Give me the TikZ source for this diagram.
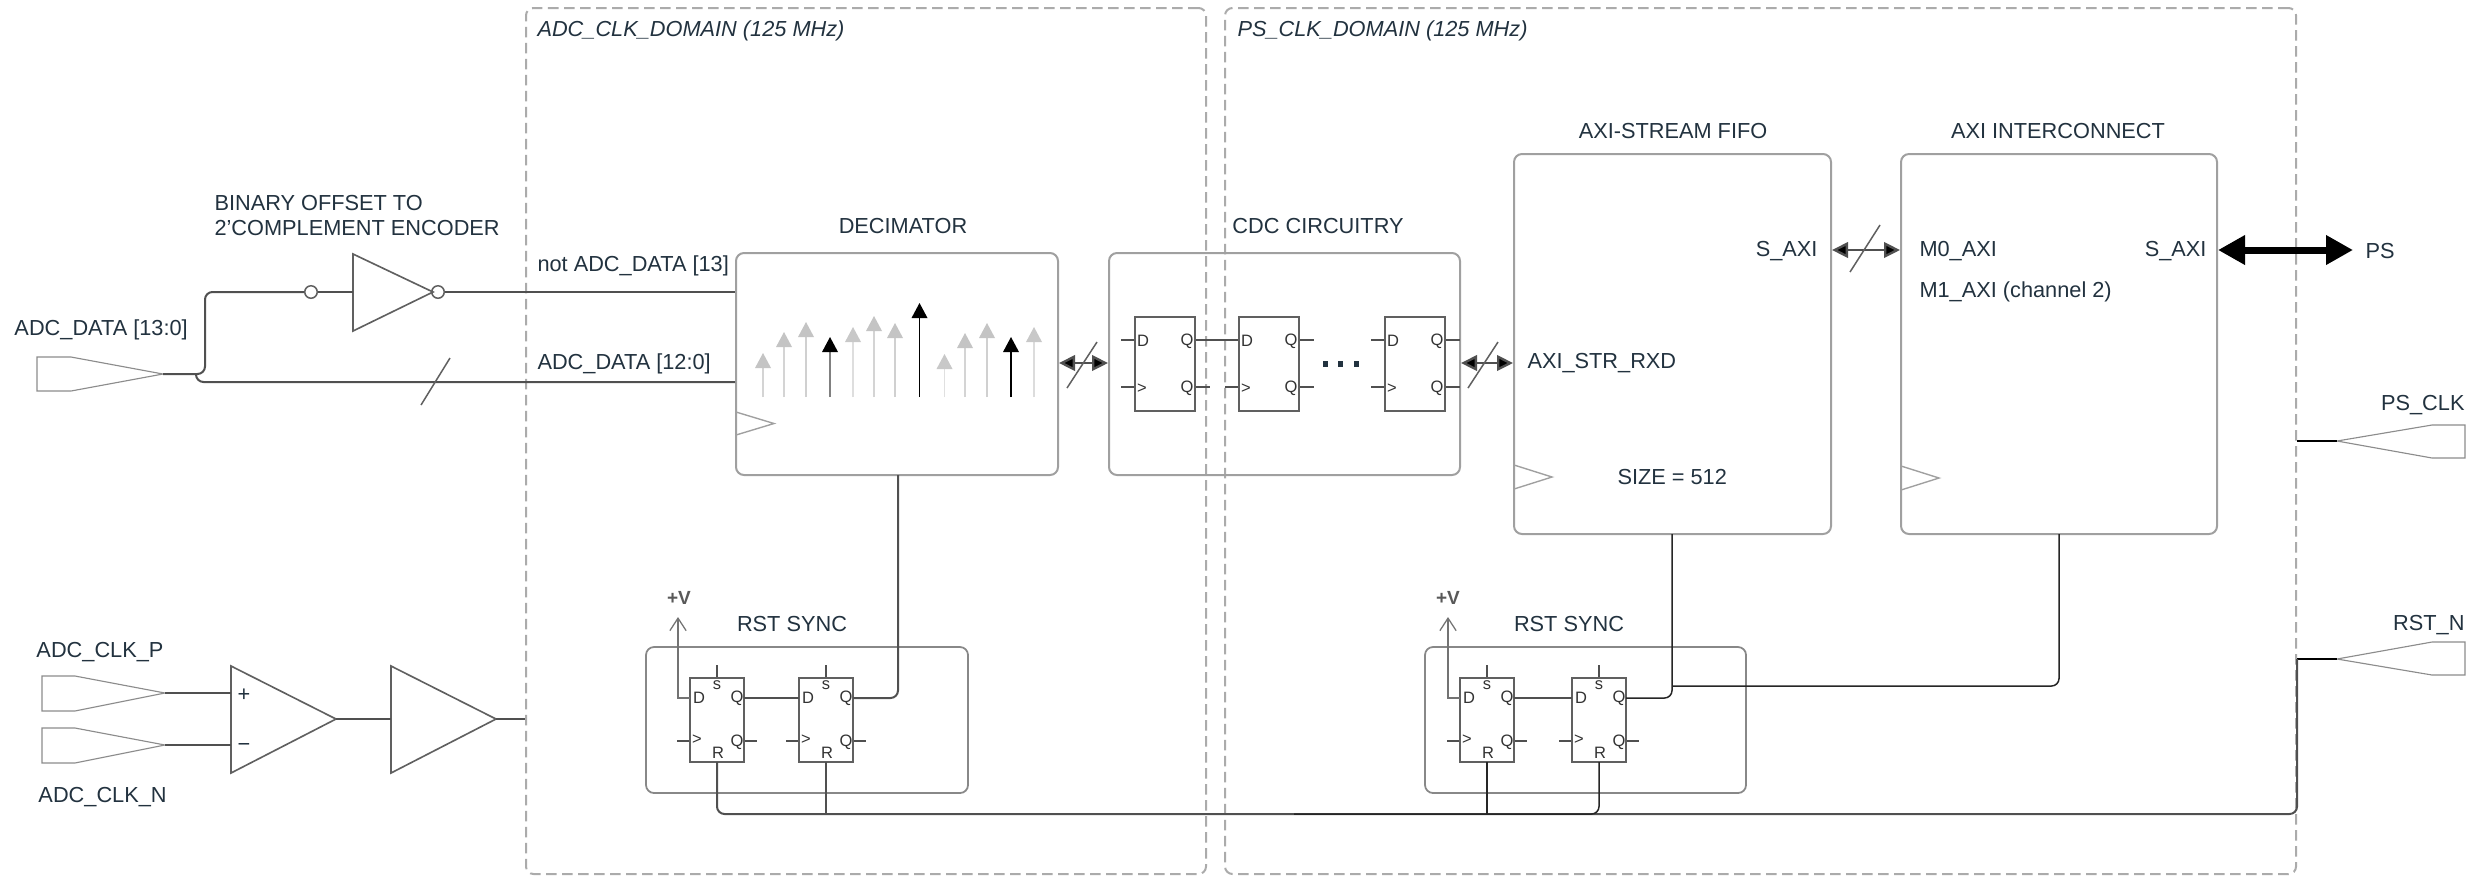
\documentclass[tikz,border=0pt]{standalone}
\usepackage{fontspec}
\setmainfont{Liberation Sans}
\usetikzlibrary{arrows.meta,fit,calc}
\definecolor{txt}{HTML}{22323F}
\definecolor{wirec}{HTML}{505050}
\definecolor{boxc}{HTML}{A0A0A0}
\definecolor{dashc}{HTML}{ABABAB}
\definecolor{padc}{HTML}{8C8C8C}
\definecolor{ffc}{HTML}{606060}
\tikzset{
  lbl/.style={inner sep=0pt,text=txt,font=\fontsize{8.7}{10}\selectfont,anchor=west},
  lblr/.style={lbl,anchor=east},
  lblc/.style={lbl,anchor=center},
  ttl/.style={lblc},
  ffl/.style={inner sep=0pt,text=black!80,font=\fontsize{6.6}{7}\selectfont,anchor=center},
  vlbl/.style={lblc,text=black!65,font=\fontsize{7.6}{8}\bfseries\selectfont},
  dombox/.style={draw=dashc,line width=0.8pt,dash pattern=on 4.2pt off 2.2pt,rounded corners=3pt,inner sep=0pt},
  block/.style={draw=boxc,line width=0.8pt,rounded corners=3.2pt,inner sep=0pt},
  syncbox/.style={draw=boxc!85!black,line width=0.7pt,rounded corners=3.2pt,inner sep=0pt},
  ffbox/.style={draw=ffc,line width=0.7pt,inner sep=0pt},
  wire/.style={draw=wirec,line width=0.8pt,rounded corners=3pt},
  thinw/.style={draw=wirec,line width=0.55pt},
  darkw/.style={draw=black!85,line width=0.6pt,rounded corners=3pt},
  padp/.style={draw=padc,line width=0.45pt,fill=white},
  gatep/.style={draw=ffc,line width=0.65pt,line join=miter},
  clkp/.style={draw=boxc,line width=0.55pt},
  bubble/.style={circle,draw=ffc,line width=0.6pt,inner sep=0pt,minimum size=5pt,fill=white},
  slashp/.style={draw=ffc,line width=0.6pt},
  bidir/.style={draw=wirec,line width=0.95pt,{Triangle[length=6.4pt,width=6.2pt,fill=black]}-{Triangle[length=6.4pt,width=6.2pt,fill=black]}},
}
% cdc flip-flop: name, x, y
\newcommand{\cdcff}[3]{%
 \begin{scope}[shift={(#2,#3)}]
  \node[ffbox,fit={(0,0)(60,94)}] (#1) {};
  \coordinate (#1-d) at (-14,23); \coordinate (#1-c) at (-14,70);
  \coordinate (#1-q) at (75,23); \coordinate (#1-n) at (75,70);
  \draw[thinw] (#1-d) -- (#1.west |- #1-d);
  \draw[thinw] (#1-c) -- (#1.west |- #1-c);
  \draw[thinw] (#1.east |- #1-q) -- (#1-q);
  \draw[thinw] (#1.east |- #1-n) -- (#1-n);
  \node[ffl] (#1-ld) at (8,24) {D}; \node[ffl] (#1-lq) at (52,24) {Q};
  \node[ffl] (#1-lc) at (7,72) {>}; \node[ffl] (#1-ln) at (52,71) {Q};
 \end{scope}}
% sync flip-flop: name, x, y
\newcommand{\syncff}[3]{%
 \begin{scope}[shift={(#2,#3)}]
  \node[ffbox,fit={(0,0)(54,84)}] (#1) {};
  \coordinate (#1-s) at (27,-13);
  \coordinate (#1-d) at (0,20); \coordinate (#1-c) at (-13,63);
  \coordinate (#1-q) at (54,20); \coordinate (#1-n) at (67,63);
  \coordinate (#1-r) at (27,84);
  \draw[thinw] (#1-s) -- (#1.north);
  \draw[thinw] (#1-c) -- (#1.west |- #1-c);
  \draw[thinw] (#1.east |- #1-n) -- (#1-n);
  \node[ffl] (#1-ls) at (27,7) {s}; \node[ffl] (#1-ld) at (9,20) {D};
  \node[ffl] (#1-lq) at (47,20) {Q}; \node[ffl] (#1-lc) at (7,62) {>};
  \node[ffl] (#1-ln) at (47,64) {Q}; \node[ffl] (#1-lr) at (28,75) {R};
 \end{scope}}
\begin{document}
\begin{tikzpicture}[x=0.4pt,y=-0.4pt]
\useasboundingbox (0,0) rectangle (2484,876);
\fill[white] (0,0) rectangle (2484,876);
% domains
\node[dombox,fit={(526,8)(1206,874)}] (adcdom) {};
\node[dombox,fit={(1225,8)(2296,874)}] (psdom) {};
\node[lbl,font=\fontsize{8.7}{10}\selectfont\itshape] (adcdomt) at (537,31) {ADC\_CLK\_DOMAIN (125 MHz)};
\node[lbl,font=\fontsize{8.7}{10}\selectfont\itshape] (psdomt) at (1237,31) {PS\_CLK\_DOMAIN (125 MHz)};
% main blocks
\node[block,fit={(736,253)(1058,475)}] (dec) {};
\node[ttl] (dect) at (903,226) {DECIMATOR};
\node[block,fit={(1109,253)(1460,475)}] (cdc) {};
\node[ttl] (cdct) at (1318,226) {CDC CIRCUITRY};
\node[block,fit={(1514,154)(1831,534)}] (fifo) {};
\node[ttl] (fifot) at (1673,131) {AXI-STREAM FIFO};
\node[block,fit={(1901,154)(2217,534)}] (ic) {};
\node[ttl] (ict) at (2058,131) {AXI INTERCONNECT};
% clock triangles
\draw[clkp] (736,412) -- (774,423.5) -- (736,435);
\draw[clkp] (1514,465) -- (1552,477) -- (1514,489);
\draw[clkp] (1901,466) -- (1939,478) -- (1901,490);
% block texts
\node[lblr] (fifos) at (1818,251) {S\_AXI};
\node[lbl] (rxd) at (1527,363) {AXI\_STR\_RXD};
\node[lbl] (size) at (1617,477) {SIZE = 512};
\node[lbl] (m0) at (1919,251) {M0\_AXI};
\node[lbl] (m1) at (1919,292) {M1\_AXI (channel 2)};
\node[lblr] (ics) at (2207,251) {S\_AXI};
\node[lbl] (ps) at (2365,251) {PS};
% decimator spectrum
\foreach \x/\t/\h/\s in {763/353/C4C4C4/D4D4D4,784/332/C4C4C4/D4D4D4,806/322/C4C4C4/D0D0D0,830/337/000000/808080,853/327/C8C8C8/DEDEDE,874/316/C4C4C4/D4D4D4,895/323/C4C4C4/D0D0D0,919.5/303/000000/000000,944.5/354/C8C8C8/E0E0E0,965/333/C4C4C4/D4D4D4,987/323/C4C4C4/D0D0D0,1011/337/000000/000000,1034/327/C8C8C8/DCDCDC}{
  \definecolor{hc}{HTML}{\h}\definecolor{sc}{HTML}{\s}
  \draw[draw=sc,line width=0.55pt] (\x,397) -- (\x,\t+12);
  \fill[hc] (\x,\t) -- (\x+8,\t+15) -- (\x-8,\t+15) -- cycle;
}
% cdc flip-flops
\cdcff{fa}{1135}{317}
\cdcff{fb}{1239}{317}
\cdcff{fc}{1385}{317}
\draw[thinw] (fa-q) -- (fb.west |- fb-d);
\fill[txt] (1323,360.5) rectangle (1327.5,366.5);
\fill[txt] (1338,360.5) rectangle (1342.5,366.5);
\fill[txt] (1354,360.5) rectangle (1358.5,366.5);
% bidirectional links
\draw[bidir] (dec.east |- 0,363) -- (cdc.west |- 0,363);
\draw[slashp] (1067,388) -- (1097,342);
\draw[bidir] (cdc.east |- 0,363) -- (fifo.west |- 0,363);
\draw[slashp] (1468,388) -- (1498,342);
\draw[bidir] (fifo.east |- 0,250) -- (ic.west |- 0,250);
\draw[slashp] (1850,272) -- (1880,225);
\coordinate (psend) at (2353,250);
\draw[draw=black,line width=2.8pt,{Triangle[length=10.8pt,width=11.2pt,fill=black]}-{Triangle[length=10.8pt,width=11.2pt,fill=black]}] (ic.east |- psend) -- (psend);
% ADC data input
\draw[padp] (163,374) -- (71,391) -- (37,391) -- (37,357) -- (71,357) -- cycle;
\coordinate (adctip) at (163,374);
\node[lbl] (adcd) at (14,330) {ADC\_DATA [13:0]};
\node[lbl,anchor=west] (enc1) at (214,203) {BINARY OFFSET TO};
\node[lbl,anchor=west] (enc2) at (214,228) {2'COMPLEMENT ENCODER};
\node[bubble] (bi) at (311,292) {};
\node[bubble] (bo) at (438,292) {};
\coordinate (invl) at (353,292);
\draw[gatep] (353,254) -- (433,292) -- (353,331) -- cycle;
\draw[wire] (adctip) -- (205,374) -- (205,292) -- (bi.west);
\draw[thinw] (bi.east) -- (invl);
\draw[wire] (bo.east) -- (dec.west |- bo.east);
\node[lbl] (notd) at (537,266) {not ADC\_DATA [13]};
\draw[wire] (196,374) -- (196,382) -- (dec.west |- 0,382);
\draw[slashp] (421,405) -- (450,358);
\node[lbl] (dlow) at (537,364) {ADC\_DATA [12:0]};
% ADC clock input
\draw[padp] (165,693) -- (75,711) -- (42,711) -- (42,676) -- (75,676) -- cycle;
\draw[padp] (165,745) -- (75,763) -- (42,763) -- (42,728) -- (75,728) -- cycle;
\coordinate (pp) at (165,693); \coordinate (pn) at (165,745);
\node[lbl] (clkpt) at (36,652) {ADC\_CLK\_P};
\node[lbl] (clknt) at (38,797) {ADC\_CLK\_N};
\draw[gatep] (231,666) -- (336,719) -- (231,773) -- cycle;
\draw[gatep] (391,666) -- (496,719) -- (391,773) -- cycle;
\node[lblc] (plus) at (244,695) {+};
\node[lblc] (minus) at (244,747) {−};
\draw[wire] (pp) -- (231,693);
\draw[wire] (pn) -- (231,745);
\draw[wire] (336,719) -- (391,719);
\draw[wire] (496,719) -- (adcdom.west |- 0,719);
% RST SYNC 1
\node[syncbox,fit={(646,647)(968,793)}] (sync1) {};
\node[ttl] (sync1t) at (792,624) {RST SYNC};
\syncff{sa}{690}{678}
\syncff{sb}{799}{678}
\node[vlbl] (v1) at (679,598) {+V};
\coordinate (v1a) at (678,617);
\draw[wire,draw=wirec!80,rounded corners=0pt,-{Straight Barb[length=5pt,width=6.5pt,line width=0.5pt]}] (sa-d) -- (678,698) -- (v1a);
\draw[wire] (sa-q) -- (sb-d);
\draw[wire] (sb-q) -- (898,698) -- (898,475);
% RST SYNC 2
\node[syncbox,fit={(1425,647)(1746,793)}] (sync2) {};
\node[ttl] (sync2t) at (1569,624) {RST SYNC};
\syncff{sc}{1460}{678}
\syncff{sd}{1572}{678}
\node[vlbl] (v2) at (1448,598) {+V};
\coordinate (v2a) at (1448,617);
\draw[wire,draw=wirec!80,rounded corners=0pt,-{Straight Barb[length=5pt,width=6.5pt,line width=0.5pt]}] (sc-d) -- (1448,698) -- (v2a);
\draw[wire] (sc-q) -- (sd-d);
\draw[darkw] (sd-q) -- (1672,698) -- (1672,534);
\draw[darkw] (1672,686) -- (2059,686) -- (2059,534);
% PS inputs
\draw[padp] (2337,441) -- (2432,425) -- (2465,425) -- (2465,458) -- (2432,458) -- cycle;
\coordinate (psclk) at (2337,441);
\node[lblr] (psclkt) at (2465,405) {PS\_CLK};
\draw[draw=black,line width=1.1pt] (psdom.east |- psclk) -- (psclk);
\draw[padp] (2337,659) -- (2432,642) -- (2465,642) -- (2465,675) -- (2432,675) -- cycle;
\coordinate (rstn) at (2337,659);
\node[lblr] (rstnt) at (2465,625) {RST\_N};
\draw[draw=black,line width=1.1pt] (psdom.east |- rstn) -- (rstn);
% reset bus
\draw[wire] (2297,659) -- (2297,814) -- (717,814) -- (sa-r);
\draw[thinw] (sb-r) -- (826,814);
\draw[darkw] (1294,814) -- (1599,814) -- (sd-r);
\draw[darkw] (sc-r) -- (1487,814);
\end{tikzpicture}
\end{document}
